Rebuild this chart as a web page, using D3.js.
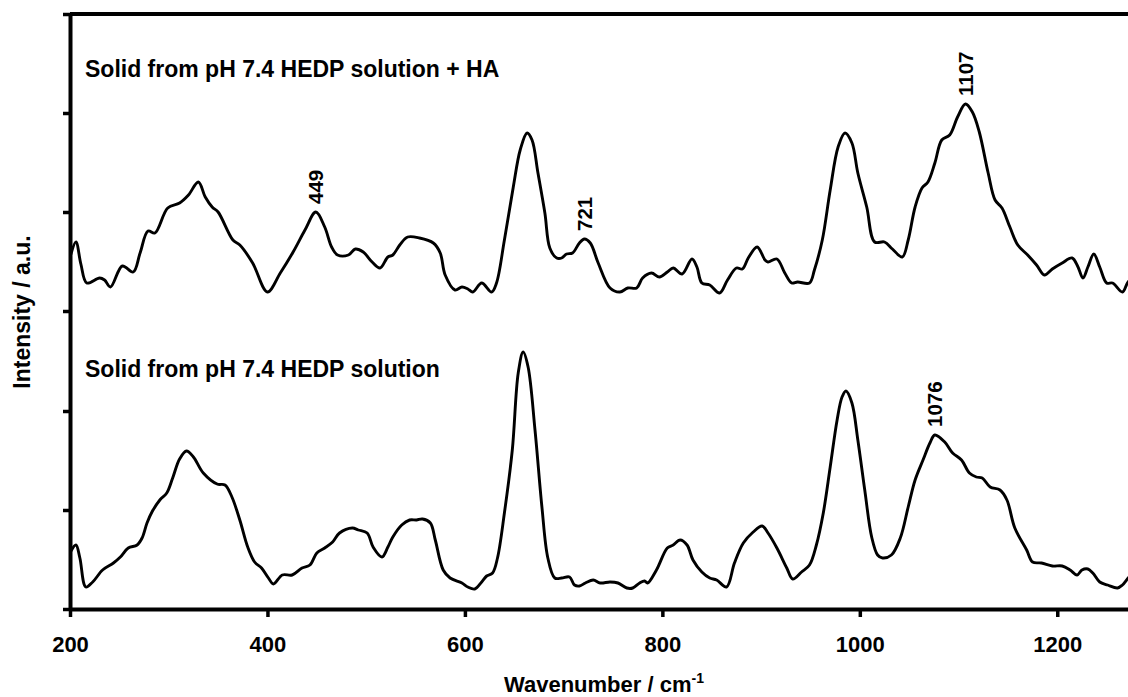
<!DOCTYPE html>
<html>
<head>
<meta charset="utf-8">
<script src="https://cdn.jsdelivr.net/npm/d3@7"></script>
<style>
  html, body { margin: 0; padding: 0; background: #fff; }
  svg { display: block; }
  text { font-family: "Liberation Sans", Arial, sans-serif; font-weight: bold; fill: #000; }
</style>
</head>
<body>
<svg id="chart" width="1128" height="697"></svg>
<script>
// Raman spectra: [wavenumber (cm-1), intensity (a.u.)]
const spectrumHA = [
  [201,355],[206,367],[211,345],[217,326],[230,331],[235,329],[241,322],[253,343],[264,337],
  [271,356],[279,378],[286,376],[299,401],[311,406],[320,414],[330,427],[337,412],[344,402],
  [350,397],[365,369],[372,364],[385,346],[400,317],[413,336],[426,357],[438,379],[449,397],
  [458,382],[465,362],[471,354],[482,354],[489,360],[497,357],[506,347],[514,341],[522,352],
  [527,354],[534,364],[542,372],[554,371],[568,366],[575,356],[580,334],[590,319],[597,322],
  [603,320],[608,317],[617,326],[627,317],[632,326],[640,369],[649,422],[656,459],[663,476],
  [668,469],[674,436],[681,396],[686,361],[693,351],[698,351],[703,355],[709,356],[716,366],
  [721,370],[727,366],[735,346],[747,321],[757,317],[765,321],[774,321],[780,331],[789,336],
  [797,332],[805,337],[811,341],[820,335],[830,350],[835,342],[840,326],[848,324],[858,316],
  [866,329],[875,341],[881,340],[887,351],[896,362],[904,349],[907,347],[916,350],[924,336],
  [931,326],[937,327],[949,326],[954,339],[962,369],[970,419],[978,462],[985,476],[992,466],
  [998,436],[1007,402],[1015,367],[1025,367],[1033,360],[1043,352],[1049,369],[1056,402],
  [1063,421],[1069,427],[1076,446],[1083,469],[1091,474],[1099,492],[1107,505],[1114,497],
  [1121,477],[1130,436],[1137,409],[1144,401],[1152,382],[1160,364],[1170,354],[1179,344],
  [1187,334],[1195,340],[1205,346],[1215,351],[1221,342],[1226,331],[1231,342],[1237,355],
  [1243,342],[1250,326],[1256,326],[1266,317],[1271,326],[1276,332]
];

const spectrumHEDP = [
  [201,58],[206,64],[210,51],[216,22],[223,27],[233,39],[244,46],[251,52],[259,61],[268,64],
  [273,71],[278,86],[283,97],[291,109],[298,116],[304,131],[311,150],[318,158],[325,152],
  [335,136],[349,125],[357,124],[364,112],[372,89],[380,62],[387,47],[394,41],[401,31],
  [406,25],[415,34],[425,34],[435,41],[443,44],[450,56],[458,61],[466,67],[473,76],[486,81],
  [492,79],[501,76],[507,62],[516,52],[522,62],[527,72],[536,84],[544,89],[551,89],[557,90],
  [565,86],[570,69],[578,39],[585,31],[597,26],[603,22],[610,20],[617,27],[622,33],[628,36],
  [633,51],[640,96],[648,159],[654,236],[659,257],[664,242],[671,179],[678,102],[684,51],
  [691,31],[698,31],[706,32],[711,24],[716,23],[722,26],[730,29],[737,26],[747,27],[755,26],
  [764,21],[770,21],[777,26],[782,28],[785,26],[794,39],[805,61],[811,64],[818,69],[825,64],
  [831,49],[840,37],[848,31],[855,29],[865,22],[873,46],[882,66],[892,77],[901,83],[907,76],
  [916,61],[926,41],[932,30],[941,37],[949,44],[956,64],[963,96],[970,142],[977,189],[982,212],
  [986,218],[992,206],[998,169],[1005,119],[1012,72],[1018,54],[1023,51],[1032,54],[1041,71],
  [1049,102],[1056,129],[1064,149],[1071,166],[1076,174],[1086,167],[1094,156],[1103,149],
  [1111,136],[1118,132],[1124,131],[1132,122],[1142,119],[1149,109],[1157,81],[1169,59],
  [1175,47],[1184,46],[1195,43],[1205,43],[1213,39],[1220,34],[1225,39],[1231,40],[1236,36],
  [1243,27],[1251,24],[1261,21],[1266,24],[1271,30],[1276,36]
];

// Marked band positions (cm-1) for each spectrum
const peaksHA = [449, 721, 1107];
const peaksHEDP = [1076];

const seriesNames = ["Solid from pH 7.4 HEDP solution + HA", "Solid from pH 7.4 HEDP solution"];
const xTicks = [200, 400, 600, 800, 1000, 1200];
const yTicks = [0, 99, 198, 298, 397, 496, 595];
const xTitle = "Wavenumber / cm";
const yTitle = "Intensity / a.u.";

const svg = d3.select("#chart");
const plot = { left: 70, top: 14, bottom: 609, right: 1156 };

const x = d3.scaleLinear().domain([200, 1300]).range([plot.left, plot.right]);
const y = d3.scaleLinear().domain([0, 595]).range([plot.bottom, plot.top]);

svg.append("defs").append("clipPath").attr("id", "plotClip")
  .append("rect")
  .attr("x", plot.left).attr("y", plot.top - 5)
  .attr("width", plot.right - plot.left).attr("height", plot.bottom - plot.top + 5);

// Spectra
const line = d3.line()
  .x(d => x(d[0]))
  .y(d => y(d[1]))
  .curve(d3.curveCatmullRom.alpha(0.5));

const traces = svg.append("g").attr("clip-path", "url(#plotClip)");
[spectrumHA, spectrumHEDP].forEach(s => {
  traces.append("path")
    .datum(s)
    .attr("d", line)
    .attr("fill", "none")
    .attr("stroke", "#000")
    .attr("stroke-width", 2.9)
    .attr("stroke-linejoin", "round")
    .attr("stroke-linecap", "round");
});

// Axes
const xAxis = svg.append("g")
  .attr("transform", `translate(0,${plot.bottom})`)
  .call(d3.axisBottom(x).tickValues(xTicks).tickFormat(d3.format("d"))
    .tickSize(8).tickSizeOuter(0).tickPadding(19));

const yAxis = svg.append("g")
  .attr("transform", `translate(${plot.left},0)`)
  .call(d3.axisLeft(y).tickValues(yTicks).tickSize(7).tickSizeOuter(0).tickFormat(""));

[xAxis, yAxis].forEach(g => {
  g.select(".domain").attr("stroke", "#000").attr("stroke-width", 4);
  g.selectAll(".tick line").attr("stroke", "#000").attr("stroke-width", 3.5);
});
xAxis.selectAll(".tick text")
  .attr("font-size", 22)
  .attr("font-family", "'Liberation Sans', Arial, sans-serif")
  .attr("font-weight", "bold")
  .attr("fill", "#000");

// Top frame line
svg.append("line")
  .attr("x1", plot.left).attr("x2", plot.right)
  .attr("y1", y(595)).attr("y2", y(595))
  .attr("stroke", "#000").attr("stroke-width", 4);

// Axis titles
const xt = svg.append("text")
  .attr("x", 504).attr("y", 692)
  .attr("font-size", 22);
xt.append("tspan").text(xTitle);
xt.append("tspan").attr("font-size", 14).attr("dy", -9).text("-1");

svg.append("text")
  .attr("transform", "translate(30,312) rotate(-90)")
  .attr("text-anchor", "middle")
  .attr("font-size", 23)
  .text(yTitle);

// Spectrum names
svg.append("text").attr("x", 85).attr("y", 77).attr("font-size", 23).text(seriesNames[0]);
svg.append("text").attr("x", 85).attr("y", 377).attr("font-size", 23).text(seriesNames[1]);

// Band labels above their peaks
function labelPeaks(series, peaks) {
  peaks.forEach(p => {
    const pt = series.find(d => d[0] === p);
    svg.append("text")
      .attr("transform", `translate(${x(pt[0])},${y(pt[1]) - 8}) rotate(-90)`)
      .attr("dy", "0.36em")
      .attr("font-size", 20.5)
      .text(String(p));
  });
}
labelPeaks(spectrumHA, peaksHA);
labelPeaks(spectrumHEDP, peaksHEDP);
</script>
</body>
</html>
